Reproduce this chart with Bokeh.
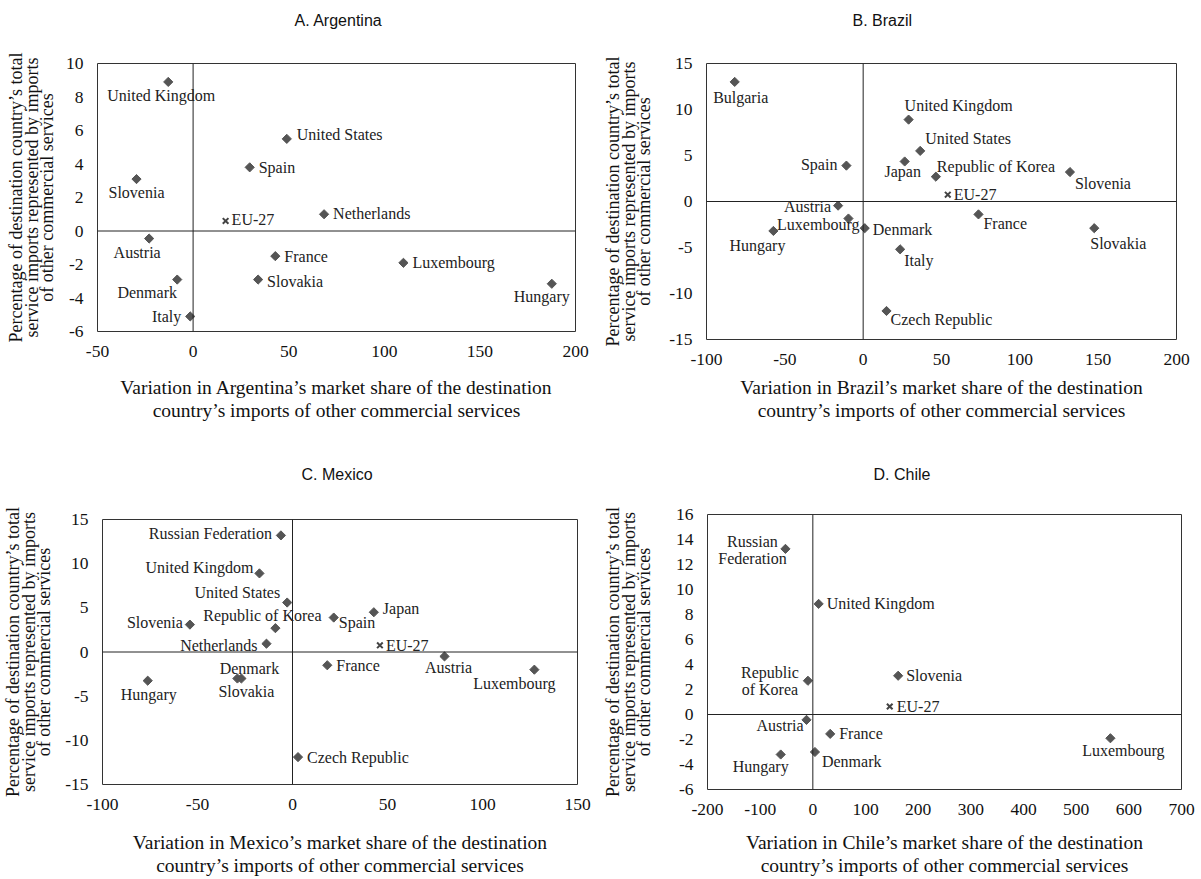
import math
from bokeh.plotting import figure
from bokeh.layouts import gridplot
from bokeh.models import Range1d, FixedTicker, Span, PrintfTickFormatter
from bokeh.embed import file_html
from bokeh.resources import INLINE
from bokeh.core.properties import value

# ---------------- data ----------------
# A. Argentina
arg_names = ["United Kingdom", "United States", "Spain", "Slovenia", "Netherlands", "Austria",
             "France", "Luxembourg", "Slovakia", "Denmark", "Hungary", "Italy"]
arg_x = [-13.0, 49.0, 29.6, -29.6, 68.5, -23.0, 43.0, 110.0, 34.0, -8.3, 187.6, -1.5]
arg_y = [8.9, 5.5, 3.8, 3.1, 1.0, -0.45, -1.5, -1.9, -2.9, -2.9, -3.15, -5.1]
arg_eu_x = [17.0]
arg_eu_y = [0.6]
arg_xticks = [-50, 0, 50, 100, 150, 200]
arg_yticks = [-6, -4, -2, 0, 2, 4, 6, 8, 10]

# B. Brazil
bra_names = ["Bulgaria", "United Kingdom", "United States", "Japan", "Spain", "Republic of Korea",
             "Slovenia", "Austria", "Luxembourg", "Hungary", "Denmark", "France", "Slovakia",
             "Italy", "Czech Republic"]
bra_x = [-82.0, 29.0, 36.4, 26.5, -10.7, 46.4, 132.0, -16.0, -9.4, -57.3, 1.0, 73.6, 147.5, 23.6, 14.9]
bra_y = [13.0, 8.9, 5.5, 4.35, 3.9, 2.7, 3.2, -0.45, -1.85, -3.2, -2.9, -1.4, -2.9, -5.2, -11.9]
bra_eu_x = [54.0]
bra_eu_y = [0.74]
bra_xticks = [-100, -50, 0, 50, 100, 150, 200]
bra_yticks = [-15, -10, -5, 0, 5, 10, 15]

# C. Mexico
mex_names = ["Russian Federation", "United Kingdom", "United States", "Japan", "Republic of Korea",
             "Spain", "Slovenia", "Netherlands", "Austria", "France", "Luxembourg", "Hungary",
             "Denmark", "Slovakia", "Czech Republic"]
mex_x = [-6.1, -17.4, -2.8, 42.8, -9.0, 21.7, -54.0, -13.7, 80.0, 18.3, 127.3, -76.2, -29.0, -26.9, 2.9]
mex_y = [13.2, 8.9, 5.6, 4.5, 2.7, 3.9, 3.1, 0.94, -0.5, -1.5, -2.0, -3.25, -3.0, -3.0, -11.9]
mex_eu_x = [46.0]
mex_eu_y = [0.76]
mex_xticks = [-100, -50, 0, 50, 100, 150]
mex_yticks = [-15, -10, -5, 0, 5, 10, 15]

# D. Chile
chl_names = ["Russian\nFederation", "United Kingdom", "Republic\nof Korea", "Slovenia", "Austria",
             "France", "Luxembourg", "Hungary", "Denmark"]
chl_x = [-52.0, 11.0, -9.3, 162.0, -12.0, 33.0, 565.0, -61.0, 4.0]
chl_y = [13.25, 8.85, 2.7, 3.1, -0.43, -1.55, -1.9, -3.2, -3.0]
chl_eu_x = [146.0]
chl_eu_y = [0.64]
chl_xticks = [-200, -100, 0, 100, 200, 300, 400, 500, 600, 700]
chl_yticks = [-6, -4, -2, 0, 2, 4, 6, 8, 10, 12, 14, 16]

# ---------------- label placement (dx px, dy px downwards, align) ----------------
arg_place = {
    "United Kingdom": (-7, 14, "center"), "United States": (10, -4, "left"), "Spain": (9, 0, "left"),
    "Slovenia": (0, 13, "center"), "Netherlands": (9, -1, "left"), "Austria": (-12, 14, "center"),
    "France": (9, 0, "left"), "Luxembourg": (9, 0, "left"), "Slovakia": (9, 2, "left"),
    "Denmark": (-30, 13, "center"), "Hungary": (-10, 13, "center"), "Italy": (-9, 0, "right"),
    "EU-27": (6, -1, "left"),
}
bra_place = {
    "Bulgaria": (6, 16, "center"), "United Kingdom": (-4, -14, "left"), "United States": (5, -12, "left"),
    "Japan": (-2, 10, "center"), "Spain": (-9, -1, "right"), "Republic of Korea": (1, -10, "left"),
    "Slovenia": (5, 11, "left"), "Austria": (-7, 1, "right"), "Luxembourg": (11, 6, "right"),
    "Hungary": (-16, 15, "center"), "Denmark": (8, 1, "left"), "France": (5, 9, "left"),
    "Slovakia": (24, 15, "center"), "Italy": (4, 11, "left"), "Czech Republic": (4, 9, "left"),
    "EU-27": (6, 0, "left"),
}
mex_place = {
    "Russian Federation": (-9, -2, "right"), "United Kingdom": (-6, -6, "right"),
    "United States": (-7, -10, "right"), "Japan": (9, -4, "left"), "Republic of Korea": (-13, -13, "center"),
    "Spain": (5, 5, "left"), "Slovenia": (-7, -2, "right"), "Netherlands": (-9, 2, "right"),
    "Austria": (4, 11, "center"), "France": (9, 0, "left"), "Luxembourg": (-20, 14, "center"),
    "Hungary": (1, 14, "center"), "Denmark": (12, -10, "center"), "Slovakia": (5, 13, "center"),
    "Czech Republic": (9, 0, "left"), "EU-27": (6, 0, "left"),
}
chl_place = {
    "Russian\nFederation": (-33, 1, "center"), "United Kingdom": (8, 0, "left"),
    "Republic\nof Korea": (-38, 0, "center"), "Slovenia": (8, 0, "left"), "Austria": (-3, 6, "right"),
    "France": (9, 0, "left"), "Luxembourg": (13, 12, "center"), "Hungary": (-20, 12, "center"),
    "Denmark": (7, 9, "left"), "EU-27": (7, 0, "left"),
}

SERIF = "Liberation Serif"
SANS = "Liberation Sans"
MARK = "#555555"
TXT = "#222222"

YLABEL = "Percentage of destination country\u2019s total\nservice imports represented by imports\nof other commercial services"


def xlabel(c):
    return ("Variation in " + c + "\u2019s market share of the destination\n"
            "country\u2019s imports of other commercial services")


def make_panel(title, country, names, xs, ys, eu_x, eu_y, xticks, yticks, place, geo):
    w, h, bl, br, bt, bb, ylab_s, xlab_s, t_lh, t_off = geo
    xr = (xticks[0], xticks[-1])
    yr = (yticks[0], yticks[-1])
    p = figure(width=w, height=h, x_range=Range1d(*xr), y_range=Range1d(*yr),
               output_backend="svg", toolbar_location=None, frame_align=False,
               min_border_left=bl, min_border_right=br, min_border_top=bt, min_border_bottom=bb)
    p.grid.visible = False
    p.outline_line_color = "#333333"
    p.outline_line_width = 1

    # title: an empty second line lifts the text above the frame
    p.title.text = title + "\n"
    p.title.align = "left"
    p.title.offset = t_off
    p.title.standoff = 0
    p.title.text_line_height = t_lh
    p.title.text_font = SANS
    p.title.text_font_style = "normal"
    p.title.text_font_size = "16px"
    p.title.text_color = "#111111"

    for ax in (p.xaxis[0], p.yaxis[0]):
        ax.axis_line_color = None
        ax.major_tick_line_color = None
        ax.minor_tick_line_color = None
        ax.major_label_text_font = SERIF
        ax.major_label_text_font_size = "17.5px"
        ax.major_label_text_color = "#111111"
        ax.axis_label_text_font = SERIF
        ax.axis_label_text_font_style = "normal"
        ax.axis_label_text_color = "#111111"
        ax.formatter = PrintfTickFormatter(format="%d")
        ax.major_label_standoff = 8
    p.xaxis.ticker = FixedTicker(ticks=xticks)
    p.yaxis.ticker = FixedTicker(ticks=yticks)
    p.xaxis.axis_label = xlabel(country)
    p.xaxis.axis_label_text_font_size = "19.5px"
    p.xaxis.axis_label_text_line_height = 1.13
    p.xaxis.axis_label_standoff = xlab_s
    p.yaxis.axis_label = YLABEL
    p.yaxis.axis_label_text_font_size = "18px"
    p.yaxis.axis_label_text_line_height = 0.77
    p.yaxis.axis_label_standoff = ylab_s

    p.add_layout(Span(location=0, dimension="height", line_color="#222222", line_width=1))
    p.add_layout(Span(location=0, dimension="width", line_color="#222222", line_width=1))

    p.scatter(xs, ys, marker="square", angle=math.pi / 4, size=6.5, fill_color=MARK, line_color=MARK)
    p.scatter(eu_x, eu_y, marker="x", size=8, line_color="#444444", line_width=2)

    all_names = list(names) + ["EU-27"]
    all_x = list(xs) + list(eu_x)
    all_y = list(ys) + list(eu_y)
    for align in ("left", "right", "center"):
        sel = [i for i, n in enumerate(all_names) if place[n][2] == align]
        if not sel:
            continue
        p.text(x=[all_x[i] for i in sel], y=[all_y[i] for i in sel],
               text=[all_names[i] for i in sel],
               x_offset=[place[all_names[i]][0] for i in sel],
               y_offset=[place[all_names[i]][1] for i in sel],
               text_align=align, text_baseline="middle", text_font=value(SERIF),
               text_font_size="16px", text_color=TXT, text_line_height=1.0)
    return p


# geometry: width, height, border l/r/t/b, y-label standoff, x-label standoff, title line height, title offset
pa = make_panel("A. Argentina", "Argentina", arg_names, arg_x, arg_y, arg_eu_x, arg_eu_y,
                arg_xticks, arg_yticks, arg_place, (600, 437, 97, 25, 63, 106, 6, 17, 2.02, 197))
pb = make_panel("B. Brazil", "Brazil", bra_names, bra_x, bra_y, bra_eu_x, bra_eu_y,
                bra_xticks, bra_yticks, bra_place, (601, 437, 104, 25, 63, 98, 12, 9, 2.02, 146))
pc = make_panel("C. Mexico", "Mexico", mex_names, mex_x, mex_y, mex_eu_x, mex_eu_y,
                mex_xticks, mex_yticks, mex_place, (600, 442, 100, 23, 82, 95, 8, 19, 2.15, 199))
pd = make_panel("D. Chile", "Chile", chl_names, chl_x, chl_y, chl_eu_x, chl_eu_y,
                chl_xticks, chl_yticks, chl_place, (601, 442, 106, 20, 77, 90, 19, 14, 1.84, 166))

grid = gridplot([[pa, pb], [pc, pd]], toolbar_location=None)
open("out.html", "w").write(file_html(grid, INLINE))
